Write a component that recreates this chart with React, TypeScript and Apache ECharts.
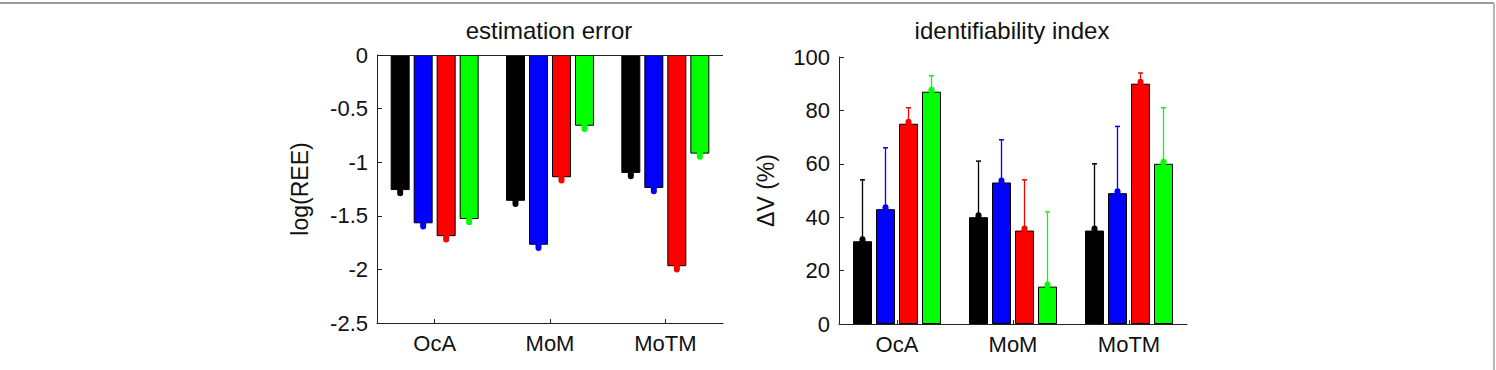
import React, { useEffect, useRef } from "react";
import * as echarts from "echarts";

const categories = ["OcA", "MoM", "MoTM"];
const seriesColors = ["#000000", "#0000ff", "#ff0000", "#00ff00"];

// estimation error, log(REE)
const reeBlack = [-1.26, -1.36, -1.1];
const reeBlue = [-1.57, -1.77, -1.24];
const reeRed = [-1.69, -1.14, -1.97];
const reeGreen = [-1.53, -0.66, -0.92];
const reeErrBlack = [0.03, 0.03, 0.03];
const reeErrBlue = [0.03, 0.03, 0.03];
const reeErrRed = [0.03, 0.03, 0.03];
const reeErrGreen = [0.03, 0.03, 0.03];

// identifiability index, ΔV (%)
const idxBlack = [31, 40, 35];
const idxBlue = [43, 53, 49];
const idxRed = [75, 35, 90];
const idxGreen = [87, 14, 60];
const idxErrBlack = [23, 21, 25];
const idxErrBlue = [23, 16, 25];
const idxErrRed = [6, 19, 4];
const idxErrGreen = [6, 28, 21];

const leftTicks = { min: -2.5, max: 0, interval: 0.5 };
const rightTicks = { min: 0, max: 100, interval: 20 };

const FONT = "'Liberation Sans', Arial, sans-serif";
const BAR_W = 19;
const STEP = 23;

function App() {
  const ref = useRef<HTMLDivElement>(null);
  useEffect(() => {
    if (!ref.current) return;
    const chart = echarts.init(ref.current, null, { renderer: "svg" });

    const leftVals = [reeBlack, reeBlue, reeRed, reeGreen];
    const leftErrs = [reeErrBlack, reeErrBlue, reeErrRed, reeErrGreen];
    const rightVals = [idxBlack, idxBlue, idxRed, idxGreen];
    const rightErrs = [idxErrBlack, idxErrBlue, idxErrRed, idxErrGreen];

    const xAxisBase = (gridIndex: number) => ({
      type: "category",
      gridIndex,
      data: categories,
      position: "bottom",
      axisLine: { onZero: false, lineStyle: { color: "#222", width: 1 } },
      axisTick: { show: true, inside: true, alignWithLabel: true, length: 4, lineStyle: { color: "#222" } },
      axisLabel: { color: "#111", fontSize: 22, fontFamily: FONT, margin: 9 },
      splitLine: { show: false },
    });

    const yAxisBase = (gridIndex: number, t: any, name: string, nameGap: number) => ({
      type: "value",
      gridIndex,
      min: t.min,
      max: t.max,
      interval: t.interval,
      name,
      nameLocation: "middle",
      nameGap,
      nameTextStyle: { color: "#111", fontSize: 23, fontFamily: FONT },
      axisLine: { show: true, lineStyle: { color: "#222", width: 1 } },
      axisTick: { show: true, inside: true, length: 5, lineStyle: { color: "#222" } },
      axisLabel: { color: "#111", fontSize: 22, fontFamily: FONT, margin: 9 },
      splitLine: { show: false },
    });

    const barSeries: any[] = [];
    const errSeries: any[] = [];
    [0, 1].forEach((g) => {
      const vals = g === 0 ? leftVals : rightVals;
      const errs = g === 0 ? leftErrs : rightErrs;
      vals.forEach((arr, k) => {
        const s: any = {
          type: "bar",
          xAxisIndex: g,
          yAxisIndex: g,
          data: arr,
          barWidth: BAR_W,
          barGap: ((STEP - BAR_W) / BAR_W) * 100 + "%",
          itemStyle: { color: seriesColors[k], borderColor: "#000", borderWidth: 1 },
          z: 2,
        };
        if (g === 0 && k === 0) {
          s.markLine = {
            silent: true,
            symbol: "none",
            label: { show: false },
            lineStyle: { color: "#222", width: 1, type: "solid" },
            data: [{ yAxis: 0 }],
          };
        }
        barSeries.push(s);
        const color = seriesColors[k];
        errSeries.push({
          type: "custom",
          xAxisIndex: g,
          yAxisIndex: g,
          z: 5,
          data: arr.map((v, i) => [i, v, errs[k][i]]),
          encode: { x: 0, y: 1 },
          renderItem: (params: any, api: any) => {
            const ci = api.value(0);
            const v = api.value(1);
            const e = api.value(2);
            const off = (k - 1.5) * STEP;
            const p0 = api.coord([ci, v]);
            if (g === 0) {
              const p1 = api.coord([ci, v - e]);
              return {
                type: "line",
                shape: { x1: p0[0] + off, y1: p0[1], x2: p1[0] + off, y2: p1[1] },
                style: { stroke: color, lineWidth: 6, lineCap: "round" },
              };
            }
            const p1 = api.coord([ci, v + e]);
            return {
              type: "group",
              children: [
                {
                  type: "line",
                  shape: { x1: p0[0] + off, y1: p0[1], x2: p1[0] + off, y2: p1[1] },
                  style: { stroke: color, lineWidth: 1.3 },
                },
                {
                  type: "line",
                  shape: { x1: p1[0] + off - 2.5, y1: p1[1], x2: p1[0] + off + 2.5, y2: p1[1] },
                  style: { stroke: color, lineWidth: 1.5 },
                },
                {
                  type: "line",
                  shape: { x1: p0[0] + off, y1: p0[1] - 1, x2: p0[0] + off, y2: p0[1] - 2 },
                  style: { stroke: color, lineWidth: 6, lineCap: "round" },
                },
              ],
            };
          },
        });
      });
    });

    chart.setOption({
      animation: false,
      backgroundColor: "#fff",
      title: [
        {
          text: "estimation error",
          left: 549,
          top: 18,
          textAlign: "center",
          padding: 0,
          textStyle: { color: "#111", fontSize: 24, fontWeight: "normal", fontFamily: FONT },
        },
        {
          text: "identifiability index",
          left: 1012,
          top: 18,
          textAlign: "center",
          padding: 0,
          textStyle: { color: "#111", fontSize: 24, fontWeight: "normal", fontFamily: FONT },
        },
      ],
      grid: [
        { left: 377, top: 55, width: 346, height: 268 },
        { left: 839, top: 57, width: 348, height: 267 },
      ],
      xAxis: [xAxisBase(0), xAxisBase(1)],
      yAxis: [
        yAxisBase(0, leftTicks, "log(REE)", 66),
        yAxisBase(1, rightTicks, "\u0394V (%)", 62),
      ],
      series: [...barSeries, ...errSeries],
      graphic: [
        { type: "line", shape: { x1: 0, y1: 3, x2: 1494, y2: 3 }, style: { stroke: "#9a9a9a", lineWidth: 2 } },
        { type: "line", shape: { x1: 1494, y1: 3, x2: 1494, y2: 370 }, style: { stroke: "#b5b5b5", lineWidth: 2 } },
      ],
    });
    return () => chart.dispose();
  }, []);
  return (
    <div
      ref={ref}
      style={{ position: "fixed", left: 0, top: 0, width: 1496, height: 370, background: "#fff" }}
    />
  );
}

export default App;
